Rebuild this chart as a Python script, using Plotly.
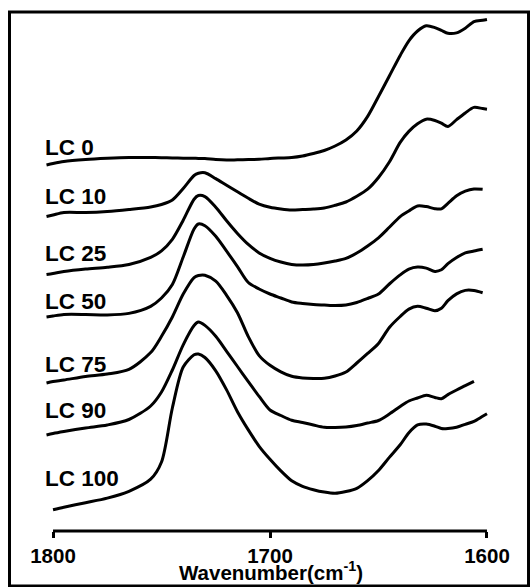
import plotly.graph_objects as go

# Wavenumber grid (cm^-1)
wavenumber = [1803, 1800, 1795, 1785, 1775, 1765, 1755, 1750, 1745, 1740, 1735, 1733, 1730,
              1725, 1720, 1715, 1710, 1705, 1700, 1695, 1690, 1685, 1680, 1675, 1670, 1665,
              1660, 1655, 1650, 1645, 1640, 1636, 1632, 1628, 1624, 1621, 1618, 1614, 1610,
              1606, 1602, 1600]

# Offset absorbance (arbitrary units) for each sample
lc0 = [366, 367.5, 369.5, 371.5, 372.7, 373.5, 373.5, 373.3, 373, 372.8, 372.7, 372.6, 372.5,
       371.5, 371, 371.2, 371.4, 371.7, 372.5, 373, 373.5, 375, 377.5, 380.5, 385, 391,
       400, 414.6, 434.5, 455, 475.6, 490.2, 500, 505.2, 503.4, 500.6, 497.7, 498.1, 502.7,
       509.4, 510.7, 511.5]
lc10 = [314.5, 316, 318.5, 318.5, 319.5, 321.5, 324, 326.5, 331, 342.5, 355.5, 357.7, 358.2,
        352.4, 345.7, 339.2, 332.7, 326.9, 323.7, 322, 321, 321.5, 322, 323, 325.7, 329,
        334.7, 341.8, 353.5, 369, 388.6, 399.6, 407.2, 411.8, 410.5, 407.8, 404.5, 411.4, 418.1,
        423.6, 422.4, 421.8]
lc25 = [256.5, 257.5, 259.5, 262, 263.7, 266.5, 273.6, 280.2, 291.7, 310.7, 331.8, 335.5, 334.4,
        323.8, 310.3, 297.6, 286.6, 278.1, 272.7, 269, 266.6, 266, 266.5, 268, 270, 272.6,
        278, 285.1, 293.2, 303.7, 314.4, 320, 325, 324.4, 322.3, 322.2, 327.6, 335.2, 339.8,
        342, 341.7, None]
lc50 = [214, 215, 216.5, 216.5, 216, 217.6, 224.7, 233, 246.5, 274, 302, 307, 305.3,
        294.7, 279.8, 264.4, 248.5, 242, 237, 233, 229, 227.5, 226.5, 226, 225.5, 226,
        228.5, 232.5, 237, 247, 256.1, 261.9, 264, 262.9, 259.6, 261.2, 267.3, 273.5, 278.1,
        280, 281.7, None]
lc75 = [148, 149.5, 151, 154.5, 157, 161.6, 178.4, 194.7, 214, 236.9, 253.4, 255.5, 255.8,
        249.8, 235.7, 218.3, 194.4, 175.4, 165.7, 159.2, 154.7, 153, 152.5, 152.7, 155, 159,
        168, 177.6, 187.6, 203.5, 214.5, 221.9, 224.8, 222.8, 220.3, 222.8, 230.3, 237.1, 240.6,
        240.5, 238.3, None]
lc90 = [96, 97.5, 99.5, 103, 106, 111.5, 125, 139, 161, 186.2, 205.5, 209, 205.6,
        194.7, 179.7, 164.5, 149.4, 134.6, 121, 115.5, 110.7, 108.5, 106, 103.7, 103.5, 104,
        105.5, 108, 110.5, 117, 124.5, 130, 133, 135.8, 133.5, 132.3, 136.4, 141, 145.3,
        149.6, None, None]
lc100 = [None, 21.3, 23.8, 28.3, 32.9, 39.7, 51.8, 69, 123, 164, 176.2, 177, 173.5,
         160.2, 141.1, 119.3, 101.1, 84.7, 71.7, 60.1, 50.2, 44.7, 41.3, 38.9, 37.7, 39.5,
         42.7, 50.4, 60.5, 73.6, 86.2, 98.3, 106.1, 107, 104.8, 102.4, 102.4, 103.7, 106.7,
         109.7, 114.7, 117.2]

series_names = ["LC 0", "LC 10", "LC 25", "LC 50", "LC 75", "LC 90", "LC 100"]
series_values = [lc0, lc10, lc25, lc50, lc75, lc90, lc100]
label_y = [384, 335, 277.7, 230, 166.7, 121, 52.7]

tick_vals = [1800, 1700, 1600]
tick_text = ["1800", "1700", "1600"]
x_title = "Wavenumber(cm<sup>-1</sup>)"

FONT = "Liberation Sans, Arial, Helvetica, sans-serif"

fig = go.Figure()
for name, vals in zip(series_names, series_values):
    fig.add_trace(go.Scatter(
        x=wavenumber, y=vals, mode="lines", name=name,
        line=dict(color="black", width=3, shape="spline", smoothing=0.8),
        connectgaps=False, showlegend=False, hoverinfo="skip"))

for name, yv in zip(series_names, label_y):
    fig.add_annotation(x=1804.5, y=yv, xref="x", yref="y", text=name, showarrow=False,
                       xanchor="left", yanchor="middle",
                       font=dict(family=FONT, size=22.5, color="black", weight="bold"))

# x-axis title
fig.add_annotation(x=(271 - 40) / 460, y=(531 - 571) / 519, xref="paper", yref="paper",
                   text=x_title, showarrow=False, xanchor="center", yanchor="middle",
                   font=dict(family=FONT, size=20.5, color="black", weight="bold"))

# axis line from 1800 to 1600
fig.add_shape(type="line", xref="x", yref="paper", x0=1800, x1=1600, y0=0, y1=0,
              line=dict(color="black", width=3))
# outer frame
fig.add_shape(type="rect", xref="paper", yref="paper", x0=-0.0663, x1=1.062, y0=-0.106, y1=1.0,
              line=dict(color="black", width=3))

fig.update_layout(
    width=530, height=587,
    margin=dict(l=40, r=30, t=12, b=56),
    paper_bgcolor="white", plot_bgcolor="white",
    xaxis=dict(range=[1806, 1594], tickvals=tick_vals, ticktext=tick_text,
               ticks="outside", ticklen=6, tickwidth=3, tickcolor="black",
               showgrid=False, zeroline=False, showline=False,
               tickfont=dict(family=FONT, size=20.5, color="black", weight="bold")),
    yaxis=dict(range=[0, 519], visible=False, showgrid=False, zeroline=False),
)

fig.write_html("out.html", config={"displayModeBar": False},
               post_script="document.body.style.margin='0';document.body.style.overflow='hidden';")
